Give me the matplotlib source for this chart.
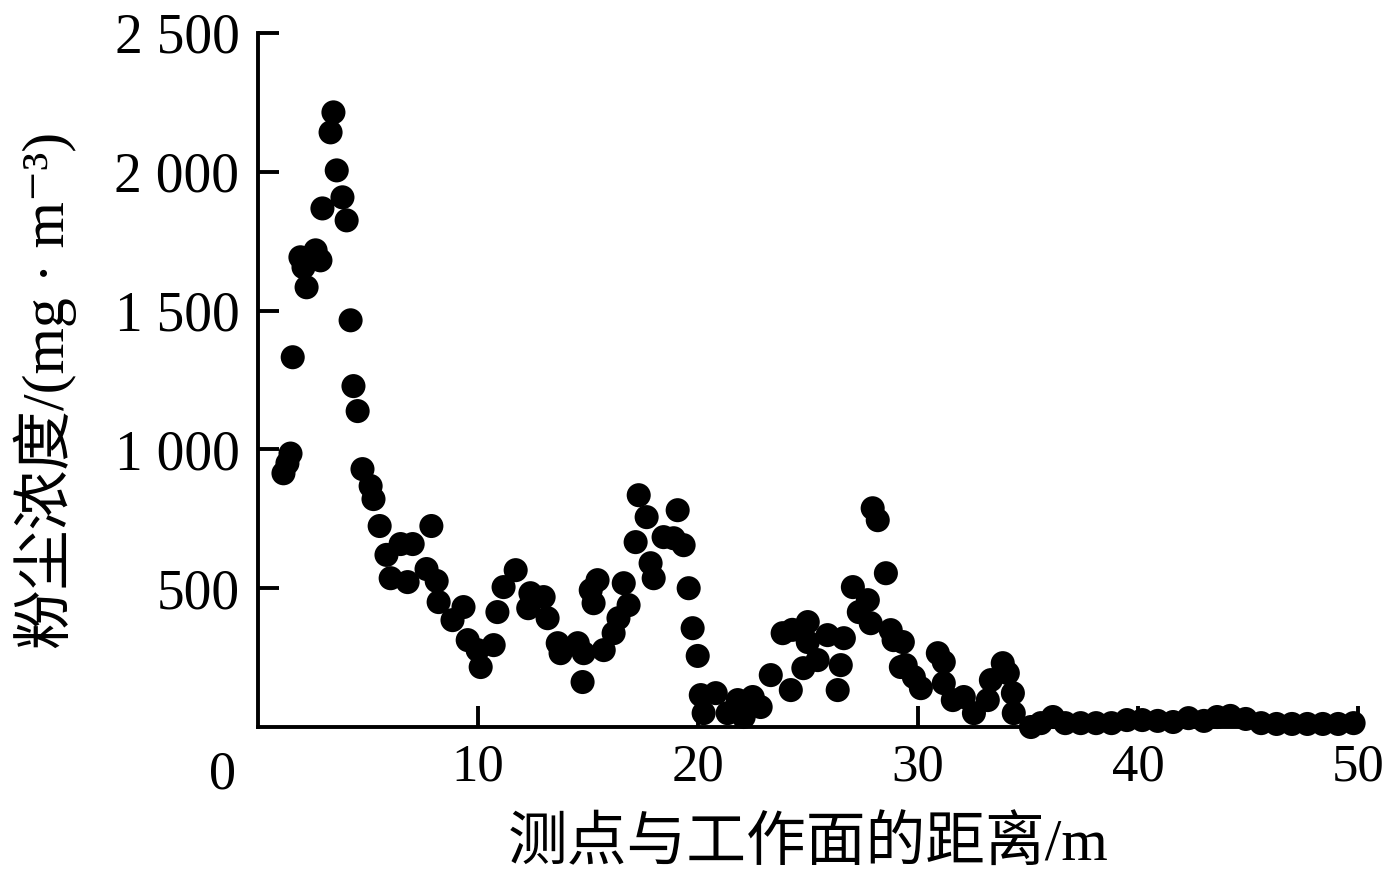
import numpy as np
import matplotlib
matplotlib.use("Agg")
import matplotlib.pyplot as plt

plt.rcParams['font.family'] = ['Liberation Serif', 'Noto Sans CJK SC', 'DejaVu Sans']

# distance from working face (m) and dust concentration (mg/m3)
distance = [
    1.18, 1.36, 1.5, 1.6, 1.95, 2.09, 2.23, 2.64, 2.86, 2.95,
    3.32, 3.45, 3.6, 3.86, 4.05, 4.23, 4.36, 4.55, 4.77, 5.14,
    5.27, 5.55, 5.86, 6.05, 6.5, 6.82, 7.05, 7.68, 7.9, 8.14,
    8.23, 8.86, 9.36, 9.55, 10.0, 10.14, 10.73, 10.9, 11.18, 11.73,
    12.4, 12.3, 13.0, 13.18, 13.64, 13.77, 14.55, 14.82, 14.77, 15.14,
    15.45, 15.27, 15.73, 16.18, 16.4, 16.64, 16.86, 17.18, 17.32, 17.68,
    17.86, 18.0, 18.45, 18.91, 19.09, 19.36, 19.59, 19.77, 20.0, 20.14,
    20.27, 20.82, 21.36, 21.82, 22.09, 22.5, 22.86, 23.32, 23.86, 24.23,
    24.3, 24.8, 25.0, 25.0, 25.45, 25.9, 26.36, 26.5, 26.64, 27.05,
    27.32, 27.73, 27.86, 27.95, 28.18, 28.55, 28.77, 28.9, 29.23, 29.32,
    29.45, 29.82, 30.14, 30.91, 31.18, 31.18, 31.59, 32.09, 32.55, 33.18,
    33.32, 33.86, 34.09, 34.32, 34.36, 35.14, 35.59, 36.14,
    36.7, 37.4, 38.1, 38.8, 39.5, 40.2, 40.9, 41.6, 42.3, 43.0,
    43.6, 44.2, 44.9, 45.6, 46.3, 47.0, 47.7, 48.4, 49.1, 49.8,
]
concentration = [
    914, 950, 985, 1332, 1692, 1656, 1584, 1717, 1681, 1868,
    2142, 2214, 2005, 1908, 1825, 1465, 1228, 1138, 929, 868,
    821, 724, 620, 536, 659, 522, 659, 569, 724, 526,
    450, 385, 432, 313, 277, 216, 295, 414, 504, 565,
    482, 428, 468, 392, 302, 266, 302, 266, 162, 493,
    529, 446, 277, 338, 392, 518, 439, 666, 835, 756,
    590, 536, 684, 680, 781, 655, 500, 356, 256, 115,
    50, 122, 50, 97, 36, 108, 72, 187, 338, 133,
    350, 212, 378, 306, 241, 331, 133, 223, 320, 504,
    414, 457, 374, 788, 745, 554, 349, 313, 216, 306,
    223, 180, 140, 266, 234, 158, 97, 108, 50, 97,
    169, 230, 194, 122, 50, 0, 14, 36,
    14, 14, 14, 14, 25, 25, 22, 18, 32, 22,
    36, 40, 29, 14, 11, 11, 11, 11, 11, 14,
]

x_ticks = [10, 20, 30, 40, 50]
y_ticks = [500, 1000, 1500, 2000, 2500]
y_tick_labels = ["500", "1 000", "1 500", "2 000", "2 500"]

fig = plt.figure(figsize=(13.92, 8.96), dpi=100)
ax = fig.add_axes([257.5 / 1392, 0.1886, (1358 - 257.5) / 1392, 0.7746])

ax.scatter(distance, concentration, s=300, color="black", edgecolors="none",
           clip_on=False, zorder=3)

ax.set_xlim(0, 50)
ax.set_ylim(0, 2500)
ax.set_xticks(x_ticks)
ax.set_yticks(y_ticks)
ax.set_yticklabels(y_tick_labels)

for side in ["top", "right"]:
    ax.spines[side].set_visible(False)
for side in ["left", "bottom"]:
    ax.spines[side].set_linewidth(2.8)

ax.tick_params(axis="both", direction="in", length=15, width=2.8)
ax.tick_params(axis="y", pad=13, labelsize=40)
ax.tick_params(axis="x", pad=12, labelsize=38)

# shared origin label
fig.text(222 / 1392, 1 - 775 / 896, "0", fontsize=39, ha="center", va="center")

fig.text(808 / 1392, 1 - 845 / 896, "测点与工作面的距离/m", fontsize=43,
         ha="center", va="center")
fig.text(45 / 1392, 1 - 390 / 896, "粉尘浓度/(mg · m⁻³)", fontsize=43,
         rotation=90, ha="center", va="center")

fig.savefig("out.png", dpi=100)
